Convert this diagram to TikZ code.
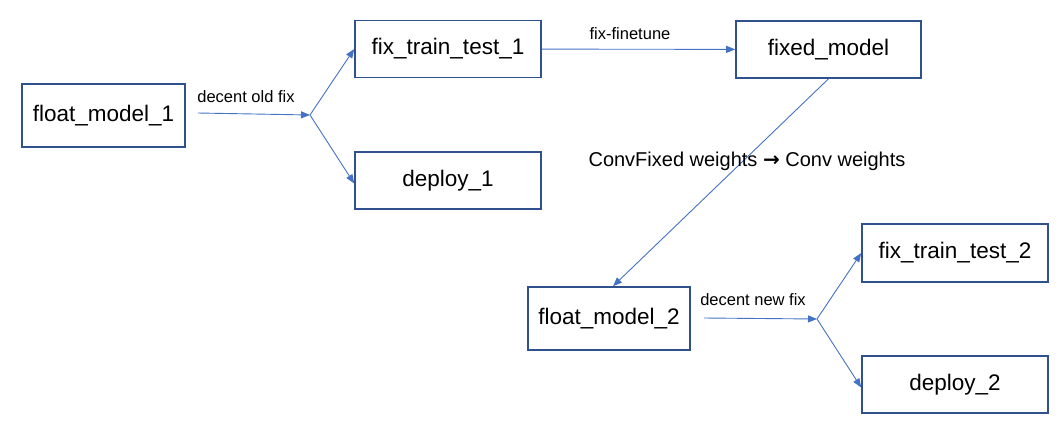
\documentclass[tikz,border=0pt]{standalone}
\usepackage{fontspec}
\setmainfont{Liberation Sans}
\newfontfamily\symfont{DejaVu Sans}
\usetikzlibrary{arrows.meta}
\definecolor{boxline}{HTML}{2F528F}
\definecolor{linkline}{HTML}{4472C4}
\tikzset{
  box/.style={draw=boxline, line width=1.6pt, minimum height=57pt, inner sep=0pt,
    font=\fontsize{22.5}{26}\selectfont},
  link/.style={draw=linkline, line width=0.9pt, -{Triangle[length=9pt,width=7pt]}},
  tag/.style={font=\fontsize{16.5}{19}\selectfont, inner sep=0pt}
}
\begin{document}
\begin{tikzpicture}[x=1pt, y=-1pt]
  \useasboundingbox (0,0) rectangle (1064,442);
  \node[box, minimum width=163pt, minimum height=63pt] (float1) at (103.5,115.5) {float\_model\_1};
  \node[box, minimum width=186pt] (train1) at (448,49) {fix\_train\_test\_1};
  \node[box, minimum width=186pt] (deploy1) at (448,180.5) {deploy\_1};
  \node[box, minimum width=185pt] (fixed) at (828.5,49.5) {fixed\_model};
  \node[box, minimum width=162pt, minimum height=63pt] (float2) at (609,318.5) {float\_model\_2};
  \node[box, minimum width=186pt, minimum height=58pt] (train2) at (955,253) {fix\_train\_test\_2};
  \node[box, minimum width=186pt] (deploy2) at (955,384.5) {deploy\_2};

  \coordinate (start1) at (198,113);
  \coordinate (fork1) at (310,115);
  \coordinate (start2) at (704,318);
  \coordinate (fork2) at (817,319);

  % old fix branch
  \draw[link] (start1) -- (fork1);
  \draw[link] (fork1) -- (train1.west);
  \draw[link] (fork1) -- ([yshift=-3pt]deploy1.west);
  \node[tag] (oldfix) at (246,97) {decent old fix};

  % finetune and conversion
  \draw[link] (train1) -- (fixed);
  \node[tag] (finetune) at (630,34) {fix-finetune};
  \draw[link] (fixed.south) -- ([xshift=4pt]float2.north);
  \node[font=\fontsize{20}{24}\selectfont, inner sep=0pt] (convert) at (747,161)
    {ConvFixed weights {\symfont\bfseries →} Conv weights};

  % new fix branch
  \draw[link] (start2) -- (fork2);
  \draw[link] (fork2) -- (train2.west);
  \draw[link] (fork2) -- ([yshift=-3pt]deploy2.west);
  \node[tag] (newfix) at (753,300) {decent new fix};
\end{tikzpicture}
\end{document}
